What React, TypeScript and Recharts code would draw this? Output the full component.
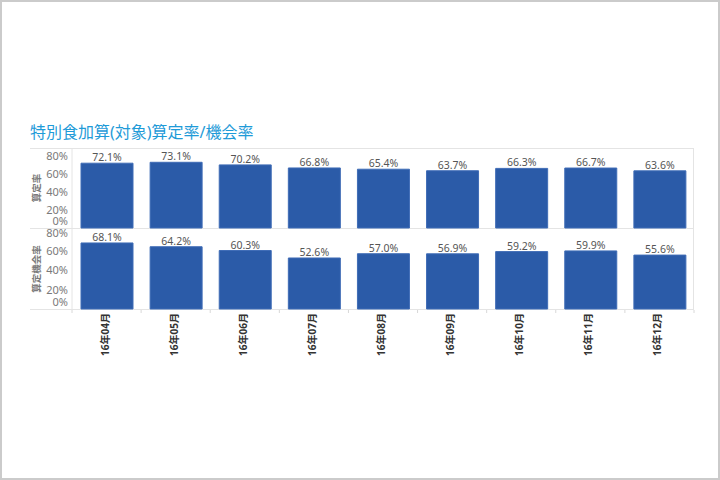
import React from "react";
import { BarChart, Bar, XAxis, YAxis, LabelList } from "recharts";

const categories = ["16年04月", "16年05月", "16年06月", "16年07月", "16年08月", "16年09月", "16年10月", "16年11月", "16年12月"];
const santeiRate = [72.1, 73.1, 70.2, 66.8, 65.4, 63.7, 66.3, 66.7, 63.6];
const kikaiRate = [68.1, 64.2, 60.3, 52.6, 57.0, 56.9, 59.2, 59.9, 55.6];
const yTicks = [0, 20, 40, 60, 80];

const data = categories.map((c, i) => ({ month: c, santei: santeiRate[i], kikai: kikaiRate[i] }));

const FONT = "'Noto Sans', 'Noto Sans CJK JP', sans-serif";
const BAR_FILL = "#2b5ba8";
const BAR_STROKE = "#3f6cb6";
const LINE = "#e4e4e4";
const PLOT_LEFT = 72;
const PLOT_RIGHT = 694;
const HALF_BAND = (PLOT_RIGHT - PLOT_LEFT) / categories.length / 2;

const fmt = (v: number) => `${v.toFixed(1)}%`;

const YTick = (props: any) => {
  const { x, y, payload, top } = props;
  let dy = 4;
  if (payload.value === 0) dy = -3;
  if (payload.value === 80 && !top) dy = 6;
  return (
    <text x={x} y={y} dy={dy} textAnchor="end" fontSize={11} fill="#7a7a7a" fontFamily={FONT}>
      {payload.value}%
    </text>
  );
};

const XTick = (props: any) => {
  const { x, y, payload, index } = props;
  return (
    <g>
      <line x1={x - HALF_BAND} x2={x - HALF_BAND} y1={y - 3} y2={y} stroke="#d8d8d8" />
      {index === categories.length - 1 && (
        <line x1={x + HALF_BAND} x2={x + HALF_BAND} y1={y - 3} y2={y} stroke="#d8d8d8" />
      )}
      <g transform={`translate(${x - 2},${y})`}>
        <text
          x={0}
          y={0}
          transform="rotate(-90)"
          textAnchor="end"
          dominantBaseline="central"
          fontSize={10}
          fontWeight="bold"
          fill="#333"
          fontFamily={FONT}
        >
          {payload.value}
        </text>
      </g>
    </g>
  );
};

const hLine = (top: number): React.CSSProperties => ({
  position: "absolute",
  left: 30,
  top,
  width: PLOT_RIGHT - 30,
  height: 1,
  background: LINE,
});

export default function App() {
  return (
    <div style={{ position: "fixed", left: 0, top: 0, width: 720, height: 480, background: "#fff", fontFamily: FONT }}>
      <div
        style={{
          position: "absolute",
          left: 30,
          top: 122,
          fontSize: 16,
          color: "#1f9bd8",
          fontFamily: FONT,
          whiteSpace: "nowrap",
          lineHeight: "20px",
        }}
      >
        特別食加算(対象)算定率/機会率
      </div>
      <div style={hLine(148)} />
      <div style={hLine(228)} />
      <div style={hLine(309)} />
      <div style={{ position: "absolute", left: 693, top: 148, width: 1, height: 162, background: LINE }} />

      <div style={{ position: "absolute", left: 0, top: 0 }}>
        <BarChart width={720} height={240} data={data} margin={{ top: 148, right: 720 - PLOT_RIGHT, bottom: 12, left: 0 }}>
          <XAxis dataKey="month" hide />
          <YAxis
            width={PLOT_LEFT}
            domain={[0, 89]}
            ticks={yTicks}
            interval={0}
            tickLine={false}
            tickSize={2}
            tickMargin={2}
            axisLine={{ stroke: LINE }}
            tick={<YTick top />}
            label={{ value: "算定率", angle: -90, position: "center", fontSize: 9.5, fill: "#7a7a7a", fontWeight: "bold", dx: 1 } as any}
          />
          <Bar dataKey="santei" fill={BAR_FILL} stroke={BAR_STROKE} strokeWidth={1} barSize={52} isAnimationActive={false}>
            <LabelList dataKey="santei" position="top" offset={2} formatter={fmt as any} fontSize={10.5} fill="#555" fontFamily={FONT} />
          </Bar>
        </BarChart>
      </div>

      <div style={{ position: "absolute", left: 0, top: 0 }}>
        <BarChart width={720} height={380} data={data} margin={{ top: 229, right: 720 - PLOT_RIGHT, bottom: 0, left: 0 }}>
          <XAxis
            dataKey="month"
            height={71}
            axisLine={false}
            tickLine={false}
            interval={0}
            tick={<XTick />}
            tickSize={0}
            tickMargin={4}
          />
          <YAxis
            width={PLOT_LEFT}
            domain={[0, 82.5]}
            ticks={yTicks}
            interval={0}
            tickLine={false}
            tickSize={2}
            tickMargin={2}
            axisLine={{ stroke: LINE }}
            tick={<YTick />}
            label={{ value: "算定機会率", angle: -90, position: "center", fontSize: 9.5, fill: "#7a7a7a", fontWeight: "bold", dx: 1 } as any}
          />
          <Bar dataKey="kikai" fill={BAR_FILL} stroke={BAR_STROKE} strokeWidth={1} barSize={52} isAnimationActive={false}>
            <LabelList dataKey="kikai" position="top" offset={2} formatter={fmt as any} fontSize={10.5} fill="#555" fontFamily={FONT} />
          </Bar>
        </BarChart>
      </div>

      <div
        style={{
          position: "absolute",
          left: 0,
          top: 0,
          width: 720,
          height: 480,
          boxSizing: "border-box",
          border: "2px solid #cbcbcb",
          pointerEvents: "none",
        }}
      />
    </div>
  );
}
